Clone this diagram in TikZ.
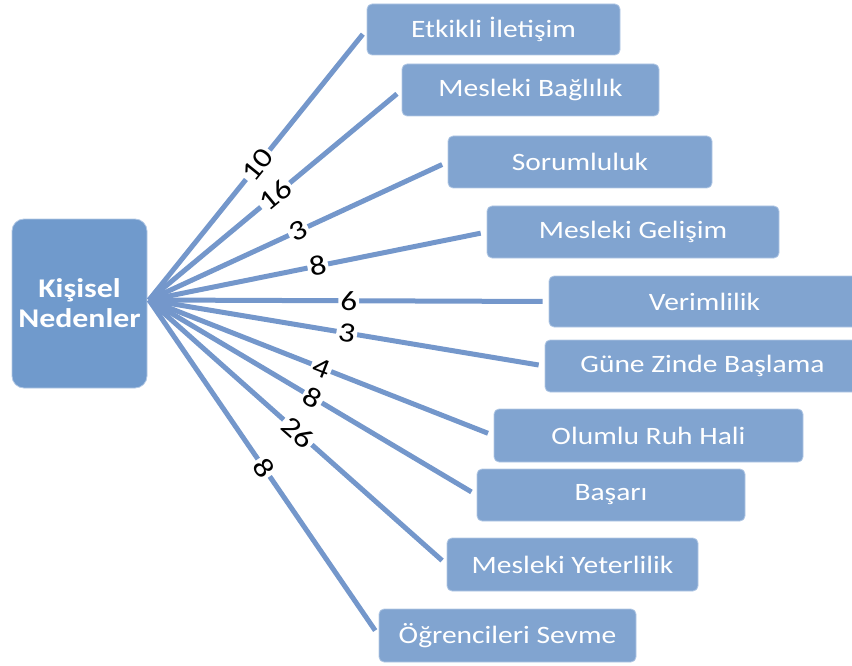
\documentclass[tikz,border=0pt]{standalone}
\usepackage{fontspec}
\setmainfont{Carlito}[FakeStretch=1.18]
\definecolor{centralfill}{RGB}{112,154,204}
\definecolor{boxfill}{RGB}{129,164,208}
\definecolor{boxline}{RGB}{178,200,228}
\definecolor{linkcol}{RGB}{116,151,203}
\begin{document}
\begin{tikzpicture}[x=1pt,y=-1pt,
  centralbox/.style={fill=centralfill,draw=boxline,line width=0.8pt,rounded corners=12pt,
    text=white,font=\fontsize{27}{31}\selectfont\bfseries,align=center,inner sep=0pt},
  itembox/.style={fill=boxfill,draw=boxline,line width=0.8pt,rounded corners=5pt,
    text=white,font=\fontsize{25}{30}\selectfont,inner sep=0pt},
  link/.style={draw=linkcol,line width=5pt,shorten >=6pt},
  num/.style={midway,sloped,fill=white,inner sep=2pt,text=black,font=\fontsize{28}{30}\selectfont}
]
\useasboundingbox (0,0) rectangle (852,666);

\node[centralbox,minimum width=135pt,minimum height=169pt] (c) at (79.5,303.5) {Kişisel\\[-1pt]Nedenler};
\coordinate (fan) at (149,300);

\node[itembox,minimum width=253pt,minimum height=51pt] (b1) at (493.5,29.5) {Etkikli İletişim};
\node[itembox,minimum width=257pt,minimum height=52pt] (b2) at (530.5,90) {Mesleki Bağlılık};
\node[itembox,minimum width=264pt,minimum height=52pt] (b3) at (580,162) {Sorumluluk};
\node[itembox,minimum width=292pt,minimum height=52pt] (b4) at (633,232) {Mesleki Gelişim};
\node[itembox,minimum width=311pt,minimum height=51pt] (b5) at (704.5,301.5) {Verimlilik};
\node[itembox,minimum width=315pt,minimum height=52pt] (b6) at (702.5,366) {Güne Zinde Başlama};
\node[itembox,minimum width=309pt,minimum height=53pt] (b7) at (648.5,435.5) {Olumlu Ruh Hali};
\node[itembox,minimum width=268pt,minimum height=52pt] (b8) at (611,495) {Başarı};
\node[itembox,minimum width=251pt,minimum height=53pt] (b9) at (572.5,564.5) {Mesleki Yeterlilik};
\node[itembox,minimum width=257pt,minimum height=53pt] (b10) at (507.5,635.5) {Öğrencileri Sevme};

\draw[link] (fan) -- (b1.west) node[num] {10};
\draw[link] (fan) -- (b2.west) node[num] {16};
\draw[link] (fan) -- (b3.west) node[num] {3};
\draw[link] (fan) -- (b4.west) node[num] {8};
\draw[link] (fan) -- (b5.west) node[num] {6};
\draw[link] (fan) -- (b6.west) node[num] {3};
\draw[link] (fan) -- (b7.west) node[num] {4};
\draw[link] (fan) -- (b8.west) node[num] {8};
\draw[link] (fan) -- (b9.west) node[num] {26};
\draw[link] (fan) -- (b10.west) node[num] {8};
\end{tikzpicture}
\end{document}
